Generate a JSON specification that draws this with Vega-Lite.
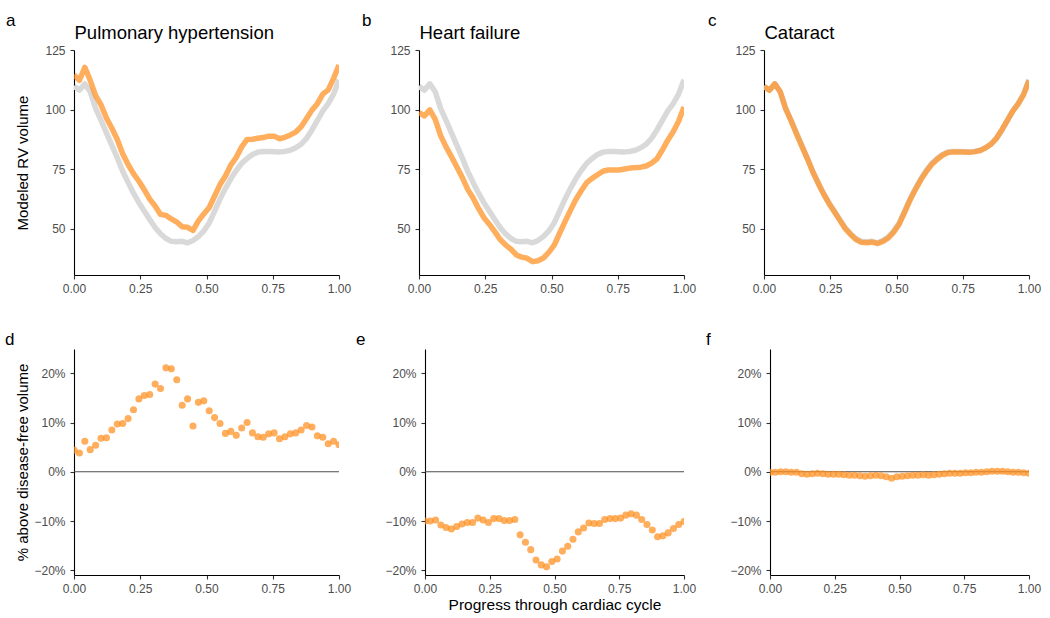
{
  "$schema": "https://vega.github.io/schema/vega-lite/v6.json",
  "background": "white",
  "padding": {"left": 5, "top": 12, "right": 5, "bottom": 5},
  "config": {
    "font": "Liberation Sans",
    "view": {"stroke": null},
    "axis": {"grid": false, "domainColor": "#000000", "domainWidth": 1.1, "tickColor": "#333333", "tickWidth": 1.1, "tickSize": 4, "labelColor": "#4D4D4D", "labelFontSize": 12, "labelPadding": 4, "labelFlush": false, "titleFontSize": 15, "titleFontWeight": "normal", "titleColor": "#000000"},
    "axisY": {"labelPadding": 5},
    "title": {"fontSize": 17, "fontWeight": "normal", "color": "#000000", "anchor": "start", "frame": "group", "baseline": "alphabetic"}
  },
  "datasets": {
    "ph": [
      {"t": 0, "free": 109.8, "dis": 114.6, "pct": 0.044},
      {"t": 0.0204, "free": 108.2, "dis": 112.3, "pct": 0.038},
      {"t": 0.0408, "free": 110.8, "dis": 117.7, "pct": 0.062},
      {"t": 0.0612, "free": 107.5, "dis": 112.3, "pct": 0.045},
      {"t": 0.0816, "free": 100.5, "dis": 105.9, "pct": 0.054},
      {"t": 0.102, "free": 95.5, "dis": 102.0, "pct": 0.068},
      {"t": 0.1224, "free": 90.3, "dis": 96.5, "pct": 0.069},
      {"t": 0.1429, "free": 85.0, "dis": 92.2, "pct": 0.085},
      {"t": 0.1633, "free": 79.8, "dis": 87.5, "pct": 0.097},
      {"t": 0.1837, "free": 74.2, "dis": 81.5, "pct": 0.098},
      {"t": 0.2041, "free": 69.5, "dis": 77.0, "pct": 0.108},
      {"t": 0.2245, "free": 65.0, "dis": 73.2, "pct": 0.126},
      {"t": 0.2449, "free": 61.0, "dis": 70.0, "pct": 0.148},
      {"t": 0.2653, "free": 57.5, "dis": 66.4, "pct": 0.155},
      {"t": 0.2857, "free": 54.0, "dis": 62.5, "pct": 0.157},
      {"t": 0.3061, "free": 50.6, "dis": 59.6, "pct": 0.178},
      {"t": 0.3265, "free": 48.0, "dis": 56.1, "pct": 0.169},
      {"t": 0.3469, "free": 46.0, "dis": 55.7, "pct": 0.211},
      {"t": 0.3673, "free": 44.8, "dis": 54.2, "pct": 0.209},
      {"t": 0.3878, "free": 44.6, "dis": 52.9, "pct": 0.187},
      {"t": 0.4082, "free": 44.8, "dis": 50.9, "pct": 0.135},
      {"t": 0.4286, "free": 44.2, "dis": 50.7, "pct": 0.148},
      {"t": 0.449, "free": 45.2, "dis": 49.4, "pct": 0.093},
      {"t": 0.4694, "free": 46.8, "dis": 53.4, "pct": 0.141},
      {"t": 0.4898, "free": 49.2, "dis": 56.3, "pct": 0.144},
      {"t": 0.5102, "free": 52.5, "dis": 59.0, "pct": 0.124},
      {"t": 0.5306, "free": 57.5, "dis": 63.8, "pct": 0.110},
      {"t": 0.551, "free": 62.5, "dis": 68.6, "pct": 0.098},
      {"t": 0.5714, "free": 67.0, "dis": 72.2, "pct": 0.078},
      {"t": 0.5918, "free": 71.0, "dis": 76.8, "pct": 0.082},
      {"t": 0.6122, "free": 74.5, "dis": 80.0, "pct": 0.074},
      {"t": 0.6327, "free": 77.5, "dis": 84.4, "pct": 0.089},
      {"t": 0.6531, "free": 79.5, "dis": 87.5, "pct": 0.100},
      {"t": 0.6735, "free": 81.2, "dis": 87.6, "pct": 0.079},
      {"t": 0.6939, "free": 82.2, "dis": 88.0, "pct": 0.071},
      {"t": 0.7143, "free": 82.5, "dis": 88.3, "pct": 0.070},
      {"t": 0.7347, "free": 82.5, "dis": 88.9, "pct": 0.077},
      {"t": 0.7551, "free": 82.4, "dis": 88.9, "pct": 0.079},
      {"t": 0.7755, "free": 82.3, "dis": 87.8, "pct": 0.067},
      {"t": 0.7959, "free": 82.5, "dis": 88.4, "pct": 0.071},
      {"t": 0.8163, "free": 83.0, "dis": 89.4, "pct": 0.077},
      {"t": 0.8367, "free": 84.0, "dis": 90.6, "pct": 0.079},
      {"t": 0.8571, "free": 85.5, "dis": 92.8, "pct": 0.085},
      {"t": 0.8776, "free": 88.0, "dis": 96.3, "pct": 0.094},
      {"t": 0.898, "free": 91.5, "dis": 99.8, "pct": 0.091},
      {"t": 0.9184, "free": 95.5, "dis": 102.5, "pct": 0.073},
      {"t": 0.9388, "free": 99.5, "dis": 106.5, "pct": 0.070},
      {"t": 0.9592, "free": 102.5, "dis": 108.3, "pct": 0.057},
      {"t": 0.9796, "free": 106.5, "dis": 113.1, "pct": 0.062},
      {"t": 1, "free": 112.5, "dis": 118.7, "pct": 0.055}
    ],
    "hf": [
      {"t": 0, "free": 109.8, "dis": 98.8, "pct": -0.100},
      {"t": 0.0204, "free": 108.2, "dis": 97.4, "pct": -0.100},
      {"t": 0.0408, "free": 110.8, "dis": 99.9, "pct": -0.098},
      {"t": 0.0612, "free": 107.5, "dis": 95.9, "pct": -0.108},
      {"t": 0.0816, "free": 100.5, "dis": 89.1, "pct": -0.113},
      {"t": 0.102, "free": 95.5, "dis": 84.4, "pct": -0.116},
      {"t": 0.1224, "free": 90.3, "dis": 80.3, "pct": -0.111},
      {"t": 0.1429, "free": 85.0, "dis": 76.0, "pct": -0.106},
      {"t": 0.1633, "free": 79.8, "dis": 71.6, "pct": -0.103},
      {"t": 0.1837, "free": 74.2, "dis": 66.6, "pct": -0.103},
      {"t": 0.2041, "free": 69.5, "dis": 63.0, "pct": -0.094},
      {"t": 0.2245, "free": 65.0, "dis": 58.6, "pct": -0.098},
      {"t": 0.2449, "free": 61.0, "dis": 54.7, "pct": -0.103},
      {"t": 0.2653, "free": 57.5, "dis": 52.0, "pct": -0.095},
      {"t": 0.2857, "free": 54.0, "dis": 48.9, "pct": -0.095},
      {"t": 0.3061, "free": 50.6, "dis": 45.6, "pct": -0.099},
      {"t": 0.3265, "free": 48.0, "dis": 43.3, "pct": -0.099},
      {"t": 0.3469, "free": 46.0, "dis": 41.5, "pct": -0.097},
      {"t": 0.3673, "free": 44.8, "dis": 39.1, "pct": -0.128},
      {"t": 0.3878, "free": 44.6, "dis": 38.2, "pct": -0.143},
      {"t": 0.4082, "free": 44.8, "dis": 37.7, "pct": -0.158},
      {"t": 0.4286, "free": 44.2, "dis": 36.3, "pct": -0.179},
      {"t": 0.449, "free": 45.2, "dis": 36.7, "pct": -0.189},
      {"t": 0.4694, "free": 46.8, "dis": 37.8, "pct": -0.193},
      {"t": 0.4898, "free": 49.2, "dis": 40.2, "pct": -0.182},
      {"t": 0.5102, "free": 52.5, "dis": 43.2, "pct": -0.177},
      {"t": 0.5306, "free": 57.5, "dis": 48.2, "pct": -0.161},
      {"t": 0.551, "free": 62.5, "dis": 53.1, "pct": -0.151},
      {"t": 0.5714, "free": 67.0, "dis": 57.8, "pct": -0.137},
      {"t": 0.5918, "free": 71.0, "dis": 62.3, "pct": -0.122},
      {"t": 0.6122, "free": 74.5, "dis": 66.0, "pct": -0.114},
      {"t": 0.6327, "free": 77.5, "dis": 69.4, "pct": -0.104},
      {"t": 0.6531, "free": 79.5, "dis": 71.2, "pct": -0.105},
      {"t": 0.6735, "free": 81.2, "dis": 72.7, "pct": -0.105},
      {"t": 0.6939, "free": 82.2, "dis": 74.2, "pct": -0.097},
      {"t": 0.7143, "free": 82.5, "dis": 74.7, "pct": -0.095},
      {"t": 0.7347, "free": 82.5, "dis": 74.7, "pct": -0.095},
      {"t": 0.7551, "free": 82.4, "dis": 74.7, "pct": -0.094},
      {"t": 0.7755, "free": 82.3, "dis": 75.1, "pct": -0.088},
      {"t": 0.7959, "free": 82.5, "dis": 75.5, "pct": -0.085},
      {"t": 0.8163, "free": 83.0, "dis": 75.7, "pct": -0.088},
      {"t": 0.8367, "free": 84.0, "dis": 75.9, "pct": -0.097},
      {"t": 0.8571, "free": 85.5, "dis": 76.4, "pct": -0.107},
      {"t": 0.8776, "free": 88.0, "dis": 77.6, "pct": -0.118},
      {"t": 0.898, "free": 91.5, "dis": 79.4, "pct": -0.132},
      {"t": 0.9184, "free": 95.5, "dis": 83.1, "pct": -0.130},
      {"t": 0.9388, "free": 99.5, "dis": 87.2, "pct": -0.124},
      {"t": 0.9592, "free": 102.5, "dis": 90.7, "pct": -0.115},
      {"t": 0.9796, "free": 106.5, "dis": 95.1, "pct": -0.107},
      {"t": 1, "free": 112.5, "dis": 101.1, "pct": -0.101}
    ],
    "cat": [
      {"t": 0, "free": 109.8, "dis": 109.7, "pct": -0.001},
      {"t": 0.0204, "free": 108.2, "dis": 108.1, "pct": -0.001},
      {"t": 0.0408, "free": 110.8, "dis": 110.8, "pct": 0.000},
      {"t": 0.0612, "free": 107.5, "dis": 107.5, "pct": 0.000},
      {"t": 0.0816, "free": 100.5, "dis": 100.4, "pct": -0.001},
      {"t": 0.102, "free": 95.5, "dis": 95.4, "pct": -0.001},
      {"t": 0.1224, "free": 90.3, "dis": 89.9, "pct": -0.004},
      {"t": 0.1429, "free": 85.0, "dis": 84.6, "pct": -0.005},
      {"t": 0.1633, "free": 79.8, "dis": 79.5, "pct": -0.004},
      {"t": 0.1837, "free": 74.2, "dis": 74.0, "pct": -0.003},
      {"t": 0.2041, "free": 69.5, "dis": 69.2, "pct": -0.004},
      {"t": 0.2245, "free": 65.0, "dis": 64.7, "pct": -0.005},
      {"t": 0.2449, "free": 61.0, "dis": 60.7, "pct": -0.005},
      {"t": 0.2653, "free": 57.5, "dis": 57.2, "pct": -0.005},
      {"t": 0.2857, "free": 54.0, "dis": 53.7, "pct": -0.006},
      {"t": 0.3061, "free": 50.6, "dis": 50.2, "pct": -0.007},
      {"t": 0.3265, "free": 48.0, "dis": 47.7, "pct": -0.007},
      {"t": 0.3469, "free": 46.0, "dis": 45.6, "pct": -0.008},
      {"t": 0.3673, "free": 44.8, "dis": 44.4, "pct": -0.009},
      {"t": 0.3878, "free": 44.6, "dis": 44.2, "pct": -0.008},
      {"t": 0.4082, "free": 44.8, "dis": 44.5, "pct": -0.007},
      {"t": 0.4286, "free": 44.2, "dis": 43.9, "pct": -0.008},
      {"t": 0.449, "free": 45.2, "dis": 44.8, "pct": -0.010},
      {"t": 0.4694, "free": 46.8, "dis": 46.2, "pct": -0.013},
      {"t": 0.4898, "free": 49.2, "dis": 48.7, "pct": -0.010},
      {"t": 0.5102, "free": 52.5, "dis": 52.0, "pct": -0.009},
      {"t": 0.5306, "free": 57.5, "dis": 57.0, "pct": -0.008},
      {"t": 0.551, "free": 62.5, "dis": 62.1, "pct": -0.007},
      {"t": 0.5714, "free": 67.0, "dis": 66.5, "pct": -0.007},
      {"t": 0.5918, "free": 71.0, "dis": 70.6, "pct": -0.006},
      {"t": 0.6122, "free": 74.5, "dis": 74.0, "pct": -0.007},
      {"t": 0.6327, "free": 77.5, "dis": 77.0, "pct": -0.006},
      {"t": 0.6531, "free": 79.5, "dis": 79.1, "pct": -0.005},
      {"t": 0.6735, "free": 81.2, "dis": 80.9, "pct": -0.004},
      {"t": 0.6939, "free": 82.2, "dis": 82.0, "pct": -0.003},
      {"t": 0.7143, "free": 82.5, "dis": 82.3, "pct": -0.003},
      {"t": 0.7347, "free": 82.5, "dis": 82.3, "pct": -0.003},
      {"t": 0.7551, "free": 82.4, "dis": 82.2, "pct": -0.002},
      {"t": 0.7755, "free": 82.3, "dis": 82.1, "pct": -0.002},
      {"t": 0.7959, "free": 82.5, "dis": 82.4, "pct": -0.001},
      {"t": 0.8163, "free": 83.0, "dis": 82.9, "pct": -0.001},
      {"t": 0.8367, "free": 84.0, "dis": 84.0, "pct": 0.000},
      {"t": 0.8571, "free": 85.5, "dis": 85.6, "pct": 0.001},
      {"t": 0.8776, "free": 88.0, "dis": 88.1, "pct": 0.001},
      {"t": 0.898, "free": 91.5, "dis": 91.6, "pct": 0.001},
      {"t": 0.9184, "free": 95.5, "dis": 95.5, "pct": 0.000},
      {"t": 0.9388, "free": 99.5, "dis": 99.4, "pct": -0.001},
      {"t": 0.9592, "free": 102.5, "dis": 102.4, "pct": -0.001},
      {"t": 0.9796, "free": 106.5, "dis": 106.3, "pct": -0.002},
      {"t": 1, "free": 112.5, "dis": 112.2, "pct": -0.003}
    ]
  },
  "spacing": 37,
  "vconcat": [
    {
      "hconcat": [
        {
          "width": 265, "height": 225,
          "title": {"text": "a", "dx": -68, "offset": -7},
          "data": {"name": "ph"},
          "layer": [
            {"mark": {"type": "line", "color": "#D9D9D9", "strokeWidth": 5.5, "strokeJoin": "round", "clip": true},
             "encoding": {
               "x": {"field": "t", "type": "quantitative", "scale": {"domain": [0, 1], "nice": false, "zero": false}, "axis": {"orient": "top", "title": "Pulmonary hypertension", "labels": false, "ticks": false, "domain": false, "titleX": 0, "titleY": -12, "titleAlign": "left", "titleAnchor": "start", "titleBaseline": "alphabetic", "titleFontSize": 18.5}},
               "y": {"field": "free", "type": "quantitative", "scale": {"domain": [30.7, 125], "nice": false, "zero": false}, "axis": {"values": [50, 75, 100, 125], "title": "Modeled RV volume", "titleX": -47, "titleY": 112.5, "titleBaseline": "alphabetic"}}
             }},
            {"mark": {"type": "line", "color": "#FF8F1F", "opacity": 0.72, "strokeWidth": 5.5, "strokeJoin": "round", "clip": true},
             "encoding": {
               "x": {"field": "t", "type": "quantitative", "axis": {"values": [0, 0.25, 0.5, 0.75, 1], "format": ".2f", "title": null}},
               "y": {"field": "dis", "type": "quantitative", "axis": {"values": [50, 75, 100, 125], "title": "Modeled RV volume", "titleX": -47, "titleY": 112.5, "titleBaseline": "alphabetic"}}
             }}
          ],
          "resolve": {"axis": {"x": "independent"}}
        },
        {
          "width": 265, "height": 225,
          "title": {"text": "b", "dx": -57, "offset": -7},
          "data": {"name": "hf"},
          "layer": [
            {"mark": {"type": "line", "color": "#D9D9D9", "strokeWidth": 5.5, "strokeJoin": "round", "clip": true},
             "encoding": {
               "x": {"field": "t", "type": "quantitative", "scale": {"domain": [0, 1], "nice": false, "zero": false}, "axis": {"orient": "top", "title": "Heart failure", "labels": false, "ticks": false, "domain": false, "titleX": 0, "titleY": -12, "titleAlign": "left", "titleAnchor": "start", "titleBaseline": "alphabetic", "titleFontSize": 18.5}},
               "y": {"field": "free", "type": "quantitative", "scale": {"domain": [30.7, 125], "nice": false, "zero": false}, "axis": {"values": [50, 75, 100, 125], "title": null}}
             }},
            {"mark": {"type": "line", "color": "#FF8F1F", "opacity": 0.72, "strokeWidth": 5.5, "strokeJoin": "round", "clip": true},
             "encoding": {
               "x": {"field": "t", "type": "quantitative", "axis": {"values": [0, 0.25, 0.5, 0.75, 1], "format": ".2f", "title": null}},
               "y": {"field": "dis", "type": "quantitative", "axis": {"values": [50, 75, 100, 125], "title": null}}
             }}
          ],
          "resolve": {"axis": {"x": "independent"}}
        },
        {
          "width": 265, "height": 225,
          "title": {"text": "c", "dx": -56, "offset": -7},
          "data": {"name": "cat"},
          "layer": [
            {"mark": {"type": "line", "color": "#D9D9D9", "strokeWidth": 5.5, "strokeJoin": "round", "clip": true},
             "encoding": {
               "x": {"field": "t", "type": "quantitative", "scale": {"domain": [0, 1], "nice": false, "zero": false}, "axis": {"orient": "top", "title": "Cataract", "labels": false, "ticks": false, "domain": false, "titleX": 0, "titleY": -12, "titleAlign": "left", "titleAnchor": "start", "titleBaseline": "alphabetic", "titleFontSize": 18.5}},
               "y": {"field": "free", "type": "quantitative", "scale": {"domain": [30.7, 125], "nice": false, "zero": false}, "axis": {"values": [50, 75, 100, 125], "title": null}}
             }},
            {"mark": {"type": "line", "color": "#FF8F1F", "opacity": 0.72, "strokeWidth": 5.5, "strokeJoin": "round", "clip": true},
             "encoding": {
               "x": {"field": "t", "type": "quantitative", "axis": {"values": [0, 0.25, 0.5, 0.75, 1], "format": ".2f", "title": null}},
               "y": {"field": "dis", "type": "quantitative", "axis": {"values": [50, 75, 100, 125], "title": null}}
             }}
          ],
          "resolve": {"axis": {"x": "independent"}}
        }
      ],
      "spacing": 80,
      "bounds": "flush"
    },
    {
      "hconcat": [
        {
          "width": 265, "height": 226,
          "title": {"text": "d", "dx": -69, "offset": 0},
          "data": {"name": "ph"},
          "layer": [
            {"data": {"values": [{}]}, "mark": {"type": "rule", "color": "#4D4D4D", "strokeWidth": 1.1},
             "encoding": {"y": {"datum": 0, "type": "quantitative", "scale": {"domain": [-0.2095, 0.2493], "nice": false, "zero": false}, "axis": {"values": [-0.2, -0.1, 0, 0.1, 0.2], "format": ".0%", "title": "% above disease-free volume", "titleX": -47, "titleY": 113, "titleBaseline": "alphabetic"}}}},
            {"mark": {"type": "circle", "color": "#FF8F1F", "opacity": 0.72, "size": 50, "clip": true},
             "encoding": {
               "x": {"field": "t", "type": "quantitative", "scale": {"domain": [0, 1], "nice": false, "zero": false}, "axis": {"values": [0, 0.25, 0.5, 0.75, 1], "format": ".2f", "title": null}},
               "y": {"field": "pct", "type": "quantitative", "axis": {"values": [-0.2, -0.1, 0, 0.1, 0.2], "format": ".0%", "title": "% above disease-free volume", "titleX": -47, "titleY": 113, "titleBaseline": "alphabetic"}}
             }}
          ]
        },
        {
          "width": 259, "height": 226,
          "title": {"text": "e", "dx": -69, "offset": 0},
          "data": {"name": "hf"},
          "layer": [
            {"data": {"values": [{}]}, "mark": {"type": "rule", "color": "#4D4D4D", "strokeWidth": 1.1},
             "encoding": {"y": {"datum": 0, "type": "quantitative", "scale": {"domain": [-0.2095, 0.2493], "nice": false, "zero": false}, "axis": {"values": [-0.2, -0.1, 0, 0.1, 0.2], "format": ".0%", "title": null}}}},
            {"mark": {"type": "circle", "color": "#FF8F1F", "opacity": 0.72, "size": 50, "clip": true},
             "encoding": {
               "x": {"field": "t", "type": "quantitative", "scale": {"domain": [0, 1], "nice": false, "zero": false}, "axis": {"values": [0, 0.25, 0.5, 0.75, 1], "format": ".2f", "title": "Progress through cardiac cycle", "titleX": 129.5, "titleY": 34, "titleBaseline": "alphabetic", "titleFontSize": 15.5}},
               "y": {"field": "pct", "type": "quantitative", "axis": {"values": [-0.2, -0.1, 0, 0.1, 0.2], "format": ".0%", "title": null}}
             }}
          ]
        },
        {
          "width": 259, "height": 226,
          "title": {"text": "f", "dx": -64, "offset": 0},
          "data": {"name": "cat"},
          "layer": [
            {"data": {"values": [{}]}, "mark": {"type": "rule", "color": "#4D4D4D", "strokeWidth": 1.1},
             "encoding": {"y": {"datum": 0, "type": "quantitative", "scale": {"domain": [-0.2095, 0.2493], "nice": false, "zero": false}, "axis": {"values": [-0.2, -0.1, 0, 0.1, 0.2], "format": ".0%", "title": null}}}},
            {"mark": {"type": "circle", "color": "#FF8F1F", "opacity": 0.72, "size": 50, "clip": true},
             "encoding": {
               "x": {"field": "t", "type": "quantitative", "scale": {"domain": [0, 1], "nice": false, "zero": false}, "axis": {"values": [0, 0.25, 0.5, 0.75, 1], "format": ".2f", "title": null}},
               "y": {"field": "pct", "type": "quantitative", "axis": {"values": [-0.2, -0.1, 0, 0.1, 0.2], "format": ".0%", "title": null}}
             }}
          ]
        }
      ],
      "spacing": 86,
      "bounds": "flush"
    }
  ]
}
